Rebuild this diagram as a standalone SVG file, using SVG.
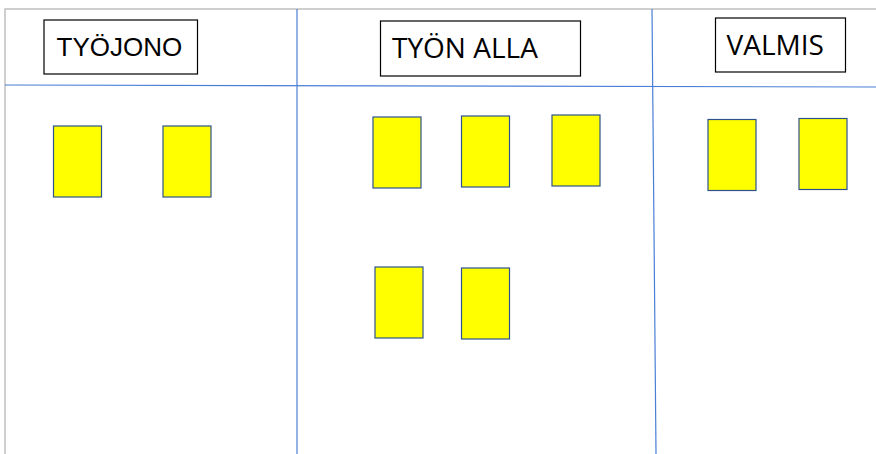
<svg xmlns="http://www.w3.org/2000/svg" width="876" height="454" viewBox="0 0 876 454">
<style>
.frame{stroke:#c0c0c0;stroke-width:1.5;fill:none}
.grid{stroke:#4a7fd6;stroke-width:1.2;fill:none}
.hdr{fill:#ffffff;stroke:#000000;stroke-width:1.2}
.card{fill:#ffff00;stroke:#2f528f;stroke-width:1.2}
.t1{font-family:"Liberation Sans",Arial,sans-serif;font-size:26px;fill:#000}
.t2{font-family:"Open Sans","Liberation Sans",sans-serif;font-size:28px;fill:#000}
</style>
<rect width="876" height="454" fill="#ffffff"/>
<g id="frame">
<path class="frame" d="M5,454 V9 H876"/>
</g>
<g id="connectors">
<path class="grid" d="M5,85 L876,87"/>
<path class="grid" d="M297,9 L297,454"/>
<path class="grid" d="M652,9 L656,454"/>
</g>
<g id="hdr-tyojono">
<rect class="hdr" x="44" y="20" width="153.5" height="54"/>
<text class="t1" x="56.5" y="56">TYÖJONO</text>
</g>
<g id="hdr-tyon-alla">
<rect class="hdr" x="380.5" y="21" width="200" height="55"/>
<text class="t2" x="392" y="57.5">TYÖN ALLA</text>
</g>
<g id="hdr-valmis">
<rect class="hdr" x="715.5" y="18" width="130" height="54"/>
<text class="t2" x="726.5" y="54.5">VALMIS</text>
</g>
<g id="card1"><rect class="card" x="53.5" y="126" width="48" height="71"/></g>
<g id="card2"><rect class="card" x="163" y="126" width="48" height="71"/></g>
<g id="card3"><rect class="card" x="373" y="117" width="48" height="71"/></g>
<g id="card4"><rect class="card" x="461.5" y="116" width="48" height="71"/></g>
<g id="card5"><rect class="card" x="552" y="115" width="48" height="71"/></g>
<g id="card6"><rect class="card" x="708" y="119.5" width="48" height="71"/></g>
<g id="card7"><rect class="card" x="799" y="118.5" width="48" height="71"/></g>
<g id="card8"><rect class="card" x="375" y="267" width="48" height="71"/></g>
<g id="card9"><rect class="card" x="461.5" y="268" width="48" height="71"/></g>
</svg>
